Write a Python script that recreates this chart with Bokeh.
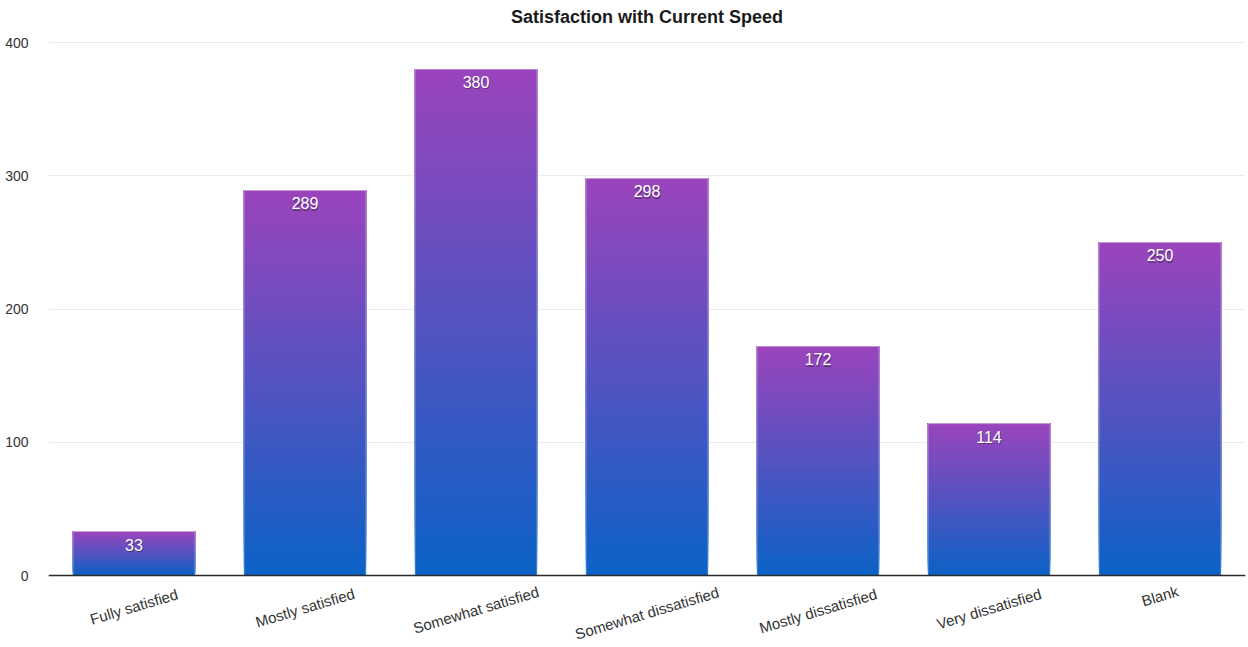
import math

from bokeh.core.properties import value
from bokeh.embed import file_html
from bokeh.models import ColumnDataSource, FactorRange, Label, LabelSet, Range1d, Span
from bokeh.plotting import figure
from bokeh.resources import INLINE

# Survey answers and how many respondents chose each
categories = [
    "Fully satisfied",
    "Mostly satisfied",
    "Somewhat satisfied",
    "Somewhat dissatisfied",
    "Mostly dissatisfied",
    "Very dissatisfied",
    "Blank",
]
counts = [33, 289, 380, 298, 172, 114, 250]
y_ticks = [0, 100, 200, 300, 400]

TITLE = "Satisfaction with Current Speed"
FONT = "Liberation Sans"
BAR_WIDTH = 0.715

WIDTH, HEIGHT = 1248, 647
PLOT_TOP, PLOT_BOTTOM = 42, 575          # pixel rows of 400 and 0
Y_MAX = 400
units_per_px = Y_MAX / (PLOT_BOTTOM - PLOT_TOP)
# The frame fills the full height so the slanted names and the title fit inside it
y_start = -(HEIGHT - PLOT_BOTTOM) * units_per_px
y_end = Y_MAX + PLOT_TOP * units_per_px

# Vertical gradient on every bar: blue at the base, purple at the top
BOTTOM_RGB = (11, 98, 198)
TOP_RGB = (155, 68, 188)
STEPS = 90


def blend(t):
    r, g, b = (round(lo + (hi - lo) * t) for lo, hi in zip(BOTTOM_RGB, TOP_RGB))
    return f"#{r:02x}{g:02x}{b:02x}"


# Each slice runs from its own start to the bar top; later slices paint over
# earlier ones, so the bands join without seams.
seg_x, seg_bottom, seg_top, seg_color = [], [], [], []
for cat, val in zip(categories, counts):
    for k in range(STEPS):
        seg_x.append(cat)
        seg_bottom.append(val * k / STEPS)
        seg_top.append(val)
        seg_color.append(blend((k + 0.5) / STEPS))

segments = ColumnDataSource(dict(x=seg_x, bottom=seg_bottom, top=seg_top, color=seg_color))
bars = ColumnDataSource(dict(x=categories, top=counts, text=[str(v) for v in counts]))

p = figure(
    x_range=FactorRange(*categories),
    y_range=Range1d(y_start, y_end),
    width=WIDTH,
    height=HEIGHT,
    output_backend="svg",
    toolbar_location=None,
    min_border_left=48,
    min_border_right=3,
    min_border_bottom=0,
    min_border_top=0,
    background_fill_color="white",
    border_fill_color="white",
    outline_line_color=None,
)

p.vbar(x="x", bottom="bottom", top="top", width=BAR_WIDTH, fill_color="color",
       line_color=None, source=segments)
p.vbar(x="x", top="top", width=BAR_WIDTH, fill_color=None, line_color="white",
       line_alpha=0.5, line_width=1, source=bars)

# Value printed inside the top of each bar, white with a soft dark shadow
VALUE_STYLE = dict(text_align="center", text_baseline="top",
                   text_font=value(FONT), text_font_size="16px")
p.add_layout(LabelSet(x="x", y="top", text="text", source=bars, x_offset=0.8,
                      y_offset=-8.2, text_color="#2a2a3a", text_alpha=0.55, **VALUE_STYLE))
p.add_layout(LabelSet(x="x", y="top", text="text", source=bars, y_offset=-7,
                      text_color="white", **VALUE_STYLE))

# Slanted category names under the baseline
ANGLE = 0.29
label_offsets = [-(15 + 0.5 * len(c) * 7.5 * math.sin(ANGLE)) for c in categories]
cat_src = ColumnDataSource(dict(x=categories, y=[0] * len(categories),
                                text=categories, off=label_offsets))
p.add_layout(LabelSet(
    x="x", y="y", text="text", y_offset="off", source=cat_src, angle=ANGLE,
    text_align="center", text_baseline="middle",
    text_color="#333333", text_font=value(FONT), text_font_size="15px",
))

# Chart title, centred over the plotting area
p.add_layout(Label(
    x=len(categories) / 2, y=HEIGHT - 16, y_units="screen", text=TITLE,
    text_align="center", text_baseline="middle",
    text_color="#1a1a1a", text_font=FONT, text_font_size="18px", text_font_style="bold",
))

p.xaxis.visible = False
p.xgrid.grid_line_color = None

p.yaxis.ticker = y_ticks
p.yaxis.axis_line_color = None
p.yaxis.major_tick_line_color = None
p.yaxis.minor_tick_line_color = None
p.yaxis.major_label_standoff = 14
p.yaxis.major_label_text_font = FONT
p.yaxis.major_label_text_font_size = "14px"
p.yaxis.major_label_text_color = "#333333"

p.ygrid.ticker = y_ticks
p.ygrid.grid_line_color = "#ebebeb"
p.ygrid.grid_line_width = 1

p.add_layout(Span(location=0, dimension="width", line_color="#2b2b2b", line_width=1.5))

open("out.html", "w").write(file_html(p, INLINE))
